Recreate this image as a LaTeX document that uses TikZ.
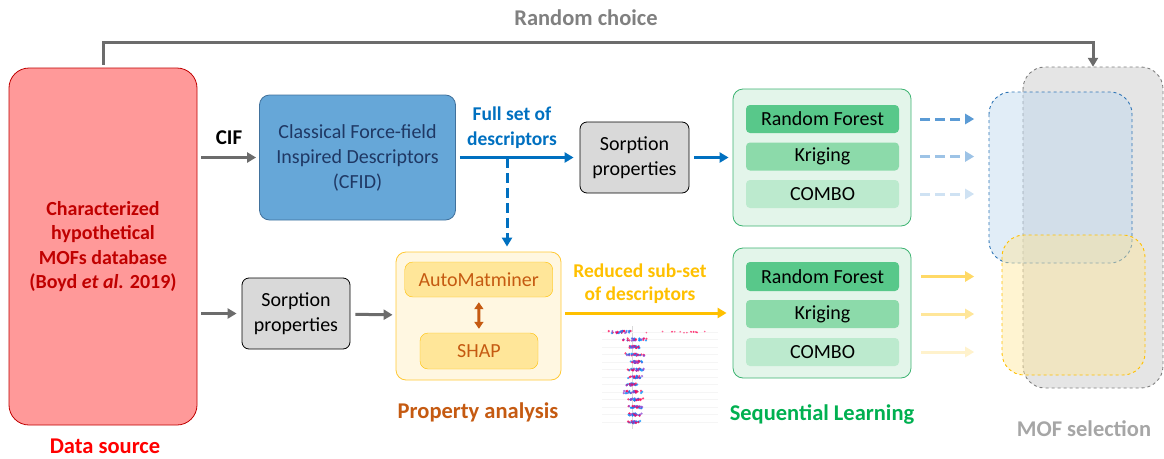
\documentclass[tikz,border=0pt]{standalone}
\usepackage{fontspec}
\setmainfont{Carlito}
\usetikzlibrary{arrows.meta}

\definecolor{srcfill}{HTML}{FF9999}
\definecolor{srcline}{HTML}{C00000}
\definecolor{srctitle}{HTML}{FF0000}
\definecolor{cfidfill}{HTML}{66A7D8}
\definecolor{cfidline}{HTML}{41719C}
\definecolor{cfidtext}{HTML}{1F3864}
\definecolor{fullblue}{HTML}{0070C0}
\definecolor{sorpfill}{HTML}{D9D9D9}
\definecolor{panelfill}{HTML}{FFF7E1}
\definecolor{panelline}{HTML}{FFC935}
\definecolor{toolfill}{HTML}{FFE699}
\definecolor{toolline}{HTML}{FFC000}
\definecolor{brown}{HTML}{C55A11}
\definecolor{reducedyel}{HTML}{FFC000}
\definecolor{learnfill}{HTML}{E3F5EA}
\definecolor{learnline}{HTML}{3CB371}
\definecolor{learntitle}{HTML}{00B050}
\definecolor{rffill}{HTML}{58C88A}
\definecolor{krfill}{HTML}{8CDAAA}
\definecolor{cbfill}{HTML}{BCEACE}
\definecolor{blueA}{HTML}{5B9BD5}
\definecolor{blueB}{HTML}{9DC3E6}
\definecolor{blueC}{HTML}{CFE2F3}
\definecolor{yelA}{HTML}{FFD966}
\definecolor{yelB}{HTML}{FFE699}
\definecolor{yelC}{HTML}{FFF2CC}
\definecolor{selgrayfill}{HTML}{E5E5E5}
\definecolor{seltitlegray}{HTML}{A6A6A6}
\definecolor{choicegray}{HTML}{808080}
\definecolor{selbluefill}{HTML}{BDD7EE}
\definecolor{selblueline}{HTML}{2E75B6}
\definecolor{shapblue}{HTML}{008BFB}
\definecolor{shappink}{HTML}{FF0051}
\definecolor{shappurple}{HTML}{8A3FD0}

\begin{document}
\begin{tikzpicture}[x=1pt,y=-1pt,
	box/.style={rounded corners=10pt, inner sep=0pt, align=center, font=\fontsize{20}{24.5}\selectfont},
	algo/.style={box, rounded corners=4pt, minimum width=153pt, minimum height=28pt},
	title/.style={inner sep=1pt, font=\bfseries\fontsize{22.5}{26}\selectfont},
	label/.style={align=center, font=\bfseries\fontsize{19.5}{24.5}\selectfont},
	flow/.style={line width=3pt, -{Triangle[length=9pt,width=10pt]}},
	dashflow/.style={flow, dash pattern=on 10pt off 5pt},
	sel/.style={dashed, line width=0.9pt, rounded corners=22pt}]

	\useasboundingbox (0,0) rectangle (1164,458);

	% MOF selection (behind everything)
	\fill[selgrayfill, rounded corners=22pt] (1023,67) rectangle (1163,388);
	\draw[sel, gray] (1023,67) rectangle (1163,388);
	\node[inner sep=0pt, minimum width=140pt, minimum height=321pt] (selgray) at (1093,227.5) {};
	\fill[selbluefill, fill opacity=0.45, rounded corners=22pt] (989,92) rectangle (1132,263);
	\draw[sel, selblueline] (989,92) rectangle (1132,263);
	\fill[yelB, fill opacity=0.45, rounded corners=22pt] (1002,235) rectangle (1145,375);
	\draw[sel, toolline] (1002,235) rectangle (1145,375);
	\node[title, text=seltitlegray] (seltitle) at (1084,429) {MOF selection};

	% Data source
	\node[box, rounded corners=20pt, fill=srcfill, draw=srcline, thick, minimum width=188pt, minimum height=357pt,
		text=srcline, font=\bfseries\fontsize{20}{24.5}\selectfont] (src) at (103,246.5)
		{Characterized\\hypothetical\\MOFs database\\(Boyd \textit{et al.} 2019)};
	\node[title, inner sep=0pt, text=srctitle] (srctitle) at (105,446) {Data source};

	% Upper branch
	\node[box, fill=cfidfill, draw=cfidline, thick, minimum width=196pt, minimum height=125pt, text=cfidtext,
		font=\fontsize{20}{25}\selectfont] (cfid) at (357.5,157.5) {Classical Force-field\\Inspired Descriptors\\(CFID)};
	\node[box, rounded corners=7pt, fill=sorpfill, draw=black, thick, minimum width=109pt, minimum height=71pt]
		(sorp1) at (634.5,157.5) {Sorption\\properties};
	\node[box, fill=learnfill, draw=learnline, thick, minimum width=178pt, minimum height=137pt] (learn1) at (822,157.5) {};
	\node[algo, fill=rffill] (rf1) at (822.5,119) {Random Forest};
	\node[algo, fill=krfill] (kr1) at (822.5,156.5) {Kriging};
	\node[algo, fill=cbfill] (cb1) at (822.5,194) {COMBO};

	% Lower branch
	\node[box, rounded corners=7pt, fill=sorpfill, draw=black, thick, minimum width=108pt, minimum height=71pt]
		(sorp2) at (296,313.5) {Sorption\\properties};
	\node[box, fill=panelfill, draw=panelline, thick, minimum width=165pt, minimum height=128pt] (panel) at (478.5,316) {};
	\node[box, rounded corners=8pt, fill=toolfill, draw=toolline, minimum width=148pt, minimum height=35pt, text=brown]
		(automat) at (478.75,279.5) {AutoMatminer};
	\node[box, rounded corners=8pt, fill=toolfill, draw=toolline, minimum width=118pt, minimum height=36pt, text=brown]
		(shap) at (479,351) {SHAP};
	\node[title, text=brown] (proptitle) at (478,412) {Property analysis};
	\node[box, fill=learnfill, draw=learnline, thick, minimum width=178pt, minimum height=130pt] (learn2) at (822,313) {};
	\node[algo, fill=rffill, minimum height=29pt] (rf2) at (822.5,276.5) {Random Forest};
	\node[algo, fill=krfill] (kr2) at (822.5,314) {Kriging};
	\node[algo, fill=cbfill] (cb2) at (822.5,352) {COMBO};
	\node[title, text=learntitle] (learntitle) at (822,414) {Sequential Learning};

	% Labels
	\node[title, text=choicegray] (choice) at (586,18) {Random choice};
	\node[label, font=\bfseries\fontsize{21}{25}\selectfont] (cif) at (229,138) {CIF};
	\node[label, text=fullblue] (fullset) at (512,127.5) {Full set of\\descriptors};
	\node[label, text=reducedyel, font=\bfseries\fontsize{19.5}{23}\selectfont] (reduced) at (640,283.5) {Reduced sub-set\\of descriptors};

	% Arrows
	\draw[flow, gray!85!black, shorten <=3pt] (src.north) -- (src.north |- 0,42) -| (selgray.north);
	\draw[flow, gray!85!black, shorten <=4pt, shorten >=3pt] (src.east |- cfid) -- (cfid);
	\draw[flow, fullblue, shorten <=4pt, shorten >=6pt] (cfid) -- (sorp1);
	\draw[flow, fullblue, shorten <=5pt, shorten >=4pt] (sorp1) -- (learn1);
	\coordinate (split) at (507,158);
	\draw[dashflow, fullblue, shorten >=5pt] (split) -- (split |- panel.north);
	\draw[flow, gray!85!black, shorten <=4pt, shorten >=5pt] (src.east |- sorp2) -- (sorp2);
	\draw[flow, gray!85!black, shorten <=5pt, shorten >=3pt] (sorp2) -- (panel);
	\draw[line width=3pt, brown, {Triangle[length=7pt,width=9pt]}-{Triangle[length=7pt,width=9pt]},
		shorten <=5pt, shorten >=4pt] (automat) -- (shap);
	\draw[flow, reducedyel, shorten <=4pt, shorten >=6pt] (panel.east |- learn2) -- (learn2);

	\draw[dashflow, blueA] ([xshift=21pt]rf1.east) -- ([xshift=75pt]rf1.east);
	\draw[dashflow, blueB] ([xshift=21pt]kr1.east) -- ([xshift=75pt]kr1.east);
	\draw[dashflow, blueC] ([xshift=21pt]cb1.east) -- ([xshift=75pt]cb1.east);
	\draw[flow, yelA] ([xshift=22pt]rf2.east) -- ([xshift=75pt]rf2.east);
	\draw[flow, yelB] ([xshift=22pt]kr2.east) -- ([xshift=75pt]kr2.east);
	\draw[flow, yelC] ([xshift=22pt]cb2.east) -- ([xshift=75pt]cb2.east);

	% SHAP summary plot
	\pgfmathsetseed{17}
	\draw[gray!30, line width=0.6pt] (632,326) -- (632,429);
	\foreach \i/\lo/\hi in {0/607/633, 1/620/648, 2/626/642, 3/623/645, 4/628/645, 5/627/645, 6/627/643,
			7/624/640, 8/622/644, 9/628/645, 10/628/643, 11/625/644, 12/627/641} {
		\draw[gray!8, line width=0.4pt] (602,332+7.5*\i) -- (718,332+7.5*\i);
		\foreach \k in {1,...,10} {
			\fill[shapblue, opacity=0.75] ({(\lo+\hi)/2+(\hi-\lo)/2*(rnd+rnd-1)}, {332+7.5*\i+2.4*(rnd-0.5)}) circle (1.2pt);
			\fill[shappink, opacity=0.75] ({(\lo+\hi)/2+(\hi-\lo)/2*(rnd+rnd-1)}, {332+7.5*\i+2.4*(rnd-0.5)}) circle (1.2pt);
			\fill[shappurple, opacity=0.75] ({(\lo+\hi)/2+(\hi-\lo)/2*(rnd+rnd-1)}, {332+7.5*\i+2.4*(rnd-0.5)}) circle (1.2pt);
		}
	}
	% sparse tail of the first row
	\foreach \k in {1,...,16} {
		\fill[shappink, opacity=0.6] ({633+80*rnd}, {332+1.6*(rnd-0.5)}) circle (0.9pt);
	}

\end{tikzpicture}
\end{document}
